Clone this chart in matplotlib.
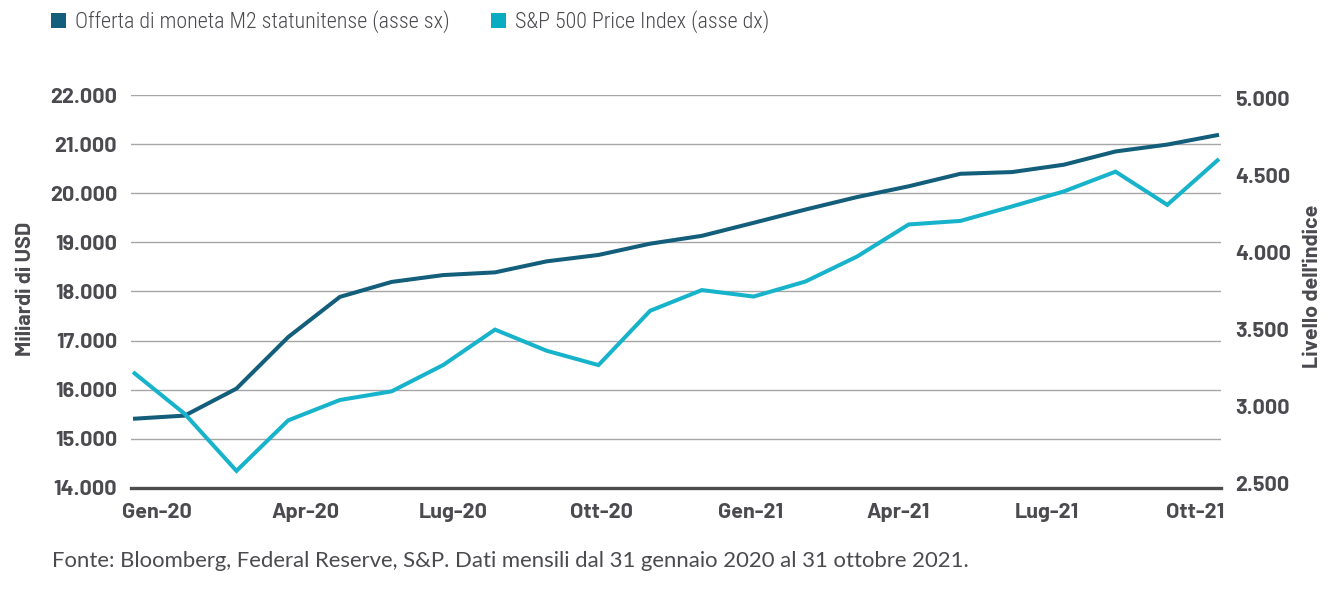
import matplotlib.pyplot as plt
import numpy as np
from matplotlib.patches import Patch

# ============================================================================
# DATA: US M2 money supply vs S&P 500, monthly Jan 2020 - Oct 2021
# ============================================================================

months = ['Gen-20', 'Feb-20', 'Mar-20', 'Apr-20', 'Mag-20', 'Giu-20', 'Lug-20', 'Ago-20',
          'Set-20', 'Ott-20', 'Nov-20', 'Dic-20', 'Gen-21', 'Feb-21', 'Mar-21', 'Apr-21',
          'Mag-21', 'Giu-21', 'Lug-21', 'Ago-21', 'Set-21', 'Ott-21']

m2_supply = [15405, 15470, 16020, 17070, 17890, 18195, 18335, 18390, 18615, 18745, 18975,
             19135, 19400, 19670, 19925, 20145, 20400, 20435, 20585, 20855, 20995, 21195]

sp500 = [3225, 2954, 2585, 2912, 3044, 3100, 3271, 3500, 3363, 3270, 3622,
         3756, 3714, 3811, 3973, 4181, 4204, 4298, 4395, 4523, 4308, 4605]

tick_labels = ['Gen-20', 'Apr-20', 'Lug-20', 'Ott-20', 'Gen-21', 'Apr-21', 'Lug-21', 'Ott-21']

left_ticks = [14000, 15000, 16000, 17000, 18000, 19000, 20000, 21000, 22000]
right_ticks = [2500, 3000, 3500, 4000, 4500, 5000]

m2_label = 'Offerta di moneta M2 statunitense (asse sx)'
sp_label = 'S&P 500 Price Index (asse dx)'
source = 'Fonte: Bloomberg, Federal Reserve, S&P. Dati mensili dal 31 gennaio 2020 al 31 ottobre 2021.'

# ============================================================================
# STYLE
# ============================================================================

dark_blue = '#135e7b'
cyan = '#17b3cb'
text_grey = '#4a4a4f'
grid_grey = '#a6a6a6'
din = ['Barlow', 'DejaVu Sans']
tick_font = dict(family=din, weight='bold', size=15.5, color=text_grey)

W, H = 1342, 592
fig = plt.figure(figsize=(W / 100, H / 100), dpi=100)
ax = fig.add_axes([131 / W, 1 - 487.7 / H, 1090 / W, 392.4 / H])
ax2 = ax.twinx()

x = np.arange(len(months))

ax.plot(x, m2_supply, color=dark_blue, lw=2.9, solid_capstyle='butt', solid_joinstyle='miter')
ax2.plot(x, sp500, color=cyan, lw=2.9, solid_capstyle='butt', solid_joinstyle='miter')

ax.set_xlim(-0.039, 21.039)
ax.set_ylim(14000, 22000)
ax2.set_ylim(2476, 5017.5)

ax.set_yticks(left_ticks)
ax.set_yticklabels([f'{v:,}'.replace(',', '.') for v in left_ticks], fontdict=tick_font)
ax2.set_yticks(right_ticks)
ax2.set_yticklabels([f'{v:,}'.replace(',', '.') for v in right_ticks], fontdict=tick_font)

ax.set_xticks(np.linspace(0.46, 20.54, len(tick_labels)))
ax.set_xticklabels(tick_labels, fontdict=tick_font)

ax.tick_params(axis='y', length=0, pad=10)
ax2.tick_params(axis='y', length=0, pad=10)
ax.tick_params(axis='x', length=0, pad=11)

ax.grid(axis='y', color=grid_grey, lw=1.0)
ax.set_axisbelow(True)
for a in (ax, ax2):
    for side in ('top', 'left', 'right', 'bottom'):
        a.spines[side].set_visible(False)
ax.spines['bottom'].set_visible(True)
ax.spines['bottom'].set_color('#4d4d4f')
ax.spines['bottom'].set_linewidth(2.4)
ax.spines['bottom'].set_zorder(3)

# axis titles
fig.text(26 / W, 1 - 289 / H, 'Miliardi di USD', rotation=90, ha='center', va='center',
         family=din, weight='bold', size=15.5, color=text_grey)
fig.text(1312 / W, 1 - 286 / H, "Livello dell'indice", rotation=90, ha='center', va='center',
         family=din, weight='bold', size=15.5, color=text_grey)

# legend
handles = [Patch(facecolor=dark_blue, edgecolor='none', label=m2_label),
           Patch(facecolor='#09acc0', edgecolor='none', label=sp_label)]
fig.legend(handles=handles, loc='center left', bbox_to_anchor=(51 / W, 1 - 22 / H), ncol=2,
           frameon=False, borderpad=0, borderaxespad=0, handlelength=0.68, handleheight=0.68,
           handletextpad=0.4, columnspacing=1.9,
           prop=dict(family=['Roboto Condensed', 'DejaVu Sans'], weight='light', size=15.8),
           labelcolor=text_grey)

# source note
fig.text(52 / W, 1 - 561 / H, source, ha='left', va='center',
         family=['Lato', 'DejaVu Sans'], size=15.9, color=text_grey)

plt.savefig('out.png', dpi=100, facecolor='white')
